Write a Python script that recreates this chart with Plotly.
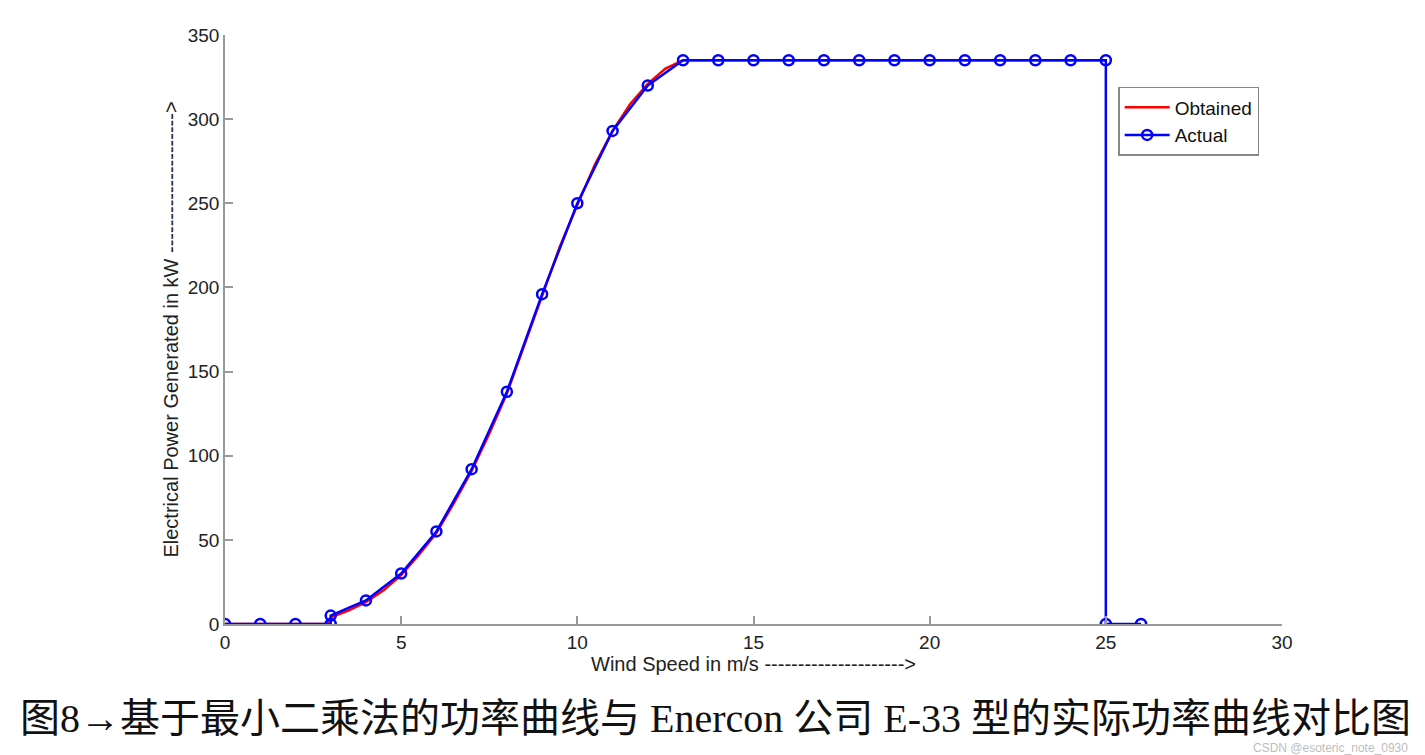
import plotly.graph_objects as go

# Actual power curve (Enercon E-33)
actual_x = [0, 1, 2, 3, 3, 4, 5, 6, 7, 8, 9, 10, 11, 12, 13, 14, 15, 16, 17, 18, 19, 20, 21, 22, 23, 24, 25, 25, 26]
actual_y = [0, 0, 0, 0, 5, 14, 30, 55, 92, 138, 196, 250, 293, 320, 335, 335, 335, 335, 335, 335, 335, 335, 335, 335, 335, 335, 335, 0, 0]

# Obtained (least squares) power curve
obtained_x = [0, 2.9, 3, 3.5, 4, 4.5, 5, 5.5, 6, 6.5, 7, 7.5, 8, 8.5, 9, 9.5, 10, 10.5, 11, 11.5, 12, 12.5, 13, 25]
obtained_y = [0, 0, 4, 8, 13, 20, 29, 41, 54, 72, 91, 113, 137, 166, 195, 224, 249, 273, 293, 309, 321, 330, 335, 335]

x_ticks = [0, 5, 10, 15, 20, 25, 30]
y_ticks = [0, 50, 100, 150, 200, 250, 300, 350]

caption = "图8→基于最小二乘法的功率曲线与 Enercon 公司 E-33 型的实际功率曲线对比图"

fig = go.Figure()
fig.add_trace(go.Scatter(x=obtained_x, y=obtained_y, mode="lines", name="Obtained",
                         line=dict(color="#ff0000", width=2.5)))
fig.add_trace(go.Scatter(x=actual_x, y=actual_y, mode="lines+markers", name="Actual",
                         line=dict(color="#0000ff", width=2.5),
                         marker=dict(symbol="circle-open", size=10, color="#0000ff",
                                     line=dict(width=2.5, color="#0000ff"))))

axis_font = dict(family="Liberation Sans, Arial, sans-serif", size=19, color="#222222")
title_font = dict(family="Liberation Sans, Arial, sans-serif", size=20, color="#222222")
fig.update_layout(
    width=1425, height=755,
    margin=dict(l=217, r=151, t=27, b=139),
    paper_bgcolor="white", plot_bgcolor="white",
    font=axis_font,
    showlegend=True,
    legend=dict(x=0.845, y=0.912, xanchor="left", yanchor="top",
                bgcolor="white", bordercolor="#888888", borderwidth=1.5,
                font=dict(family="Liberation Sans, Arial, sans-serif", size=19, color="#111111"),
                itemwidth=45, tracegroupgap=0),
    xaxis=dict(range=[0, 30], tickvals=x_ticks, showgrid=False, zeroline=False,
               showline=True, linecolor="#999999", linewidth=1.5,
               ticks="inside", ticklen=8, tickcolor="#999999", tickwidth=1.5,
               tickfont=axis_font,
               title=dict(text="Wind Speed in m/s --------------------->", font=title_font, standoff=4)),
    yaxis=dict(range=[0, 350], tickvals=y_ticks, showgrid=False, zeroline=False,
               showline=True, linecolor="#999999", linewidth=1.5,
               ticks="inside", ticklen=8, tickcolor="#999999", tickwidth=1.5,
               tickfont=axis_font,
               title=dict(text="Electrical Power Generated in kW --------------------->", font=title_font, standoff=4)),
)

fig.add_annotation(x=0.4645, y=0, xref="paper", yref="paper", xanchor="center", yanchor="middle",
                   yshift=-94, showarrow=False, text=caption,
                   font=dict(family="Liberation Serif, Times New Roman, Noto Sans CJK SC, serif", size=40, color="#111111"))
fig.add_annotation(x=1.0, y=0, xref="paper", yref="paper", xanchor="right", yanchor="middle",
                   xshift=128, yshift=-124, showarrow=False, text="CSDN @esoteric_note_0930",
                   font=dict(family="Liberation Sans, Arial, sans-serif", size=12, color="rgba(170,170,170,0.8)"))

fig.write_html("out.html")
